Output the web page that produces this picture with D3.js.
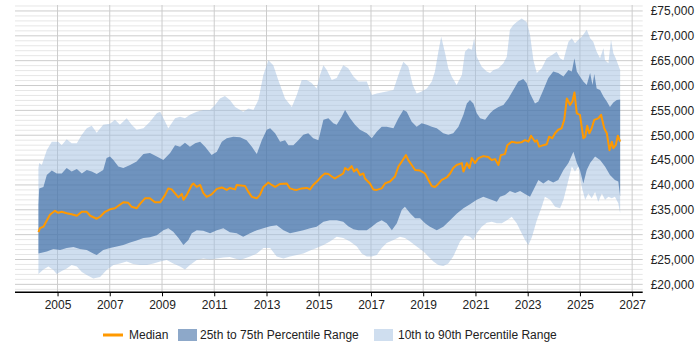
<html>
<head>
<meta charset="utf-8">
<script src="https://d3js.org/d3.v7.min.js"></script>
<style>
  body { margin: 0; background: #fff; }
  svg text { font-family: "Liberation Sans", Arial, sans-serif; font-size: 12px; fill: #222; }
</style>
</head>
<body>
<div id="chart"></div>
<script>
// values (decimal years, GBP)
const medianYears = [2004.27,2004.33,2004.46,2004.71,2004.90,2005.03,2005.16,2005.35,2005.54,2005.74,2005.93,2006.12,2006.25,2006.50,2006.63,2006.82,2007.01,2007.20,2007.33,2007.52,2007.71,2007.84,2008.03,2008.16,2008.35,2008.54,2008.73,2008.93,2009.12,2009.24,2009.37,2009.50,2009.63,2009.76,2009.82,2009.95,2010.14,2010.20,2010.33,2010.46,2010.58,2010.71,2010.90,2011.10,2011.29,2011.48,2011.60,2011.80,2011.86,2012.18,2012.31,2012.44,2012.63,2012.75,2012.88,2013.07,2013.20,2013.33,2013.52,2013.78,2013.90,2014.03,2014.16,2014.35,2014.54,2014.67,2014.79,2014.99,2015.12,2015.24,2015.37,2015.50,2015.62,2015.75,2015.94,2016.01,2016.13,2016.26,2016.35,2016.46,2016.58,2016.71,2016.77,2016.96,2017.09,2017.22,2017.41,2017.54,2017.73,2017.92,2018.05,2018.18,2018.34,2018.43,2018.56,2018.69,2018.88,2019.07,2019.20,2019.33,2019.45,2019.58,2019.71,2019.90,2020.03,2020.15,2020.28,2020.48,2020.54,2020.67,2020.77,2020.86,2020.98,2021.11,2021.30,2021.49,2021.62,2021.75,2021.88,2021.97,2022.13,2022.22,2022.39,2022.58,2022.77,2022.90,2023.03,2023.13,2023.28,2023.35,2023.44,2023.60,2023.73,2023.82,2023.94,2024.05,2024.17,2024.30,2024.40,2024.50,2024.62,2024.71,2024.79,2024.88,2025.00,2025.13,2025.20,2025.28,2025.36,2025.45,2025.55,2025.70,2025.81,2025.93,2026.03,2026.13,2026.22,2026.28,2026.37,2026.45,2026.54];
const medianValues = [30500,31300,31600,34000,34800,34400,34600,34300,34100,33800,34600,34600,33800,33200,33600,34600,35100,35300,35800,36500,36400,35600,35300,36200,37300,37300,36500,36500,38000,39300,39100,38300,37500,38200,37000,38000,40000,40300,39600,40000,38400,37600,38100,39200,39500,39000,39400,39100,40000,39800,38600,37600,37300,38000,39600,40500,40000,39600,40200,40300,39300,39100,39000,39300,39400,39100,40000,41000,41800,42300,42200,41700,41300,41700,42300,43400,43000,43800,42700,43200,42000,42300,41300,40300,39100,39000,39300,40300,40700,41700,43700,44700,46000,45000,44000,43000,42900,42300,41000,39800,39600,40200,41000,41500,42300,43400,44000,44400,42700,44400,43400,45400,44400,45400,45800,45600,45000,45200,44000,46000,46200,48000,48700,48500,48600,49000,48700,49900,48700,49000,47700,48000,48200,49700,49400,50400,51100,51400,53100,57400,56100,56800,58600,54400,54100,49400,49700,51900,50400,51400,53100,53400,54100,51400,50400,47000,48700,47400,48000,49900,48700];

const p75Years = [2004.27,2004.30,2004.46,2004.59,2004.78,2004.97,2005.16,2005.35,2005.54,2005.74,2005.93,2006.12,2006.31,2006.50,2006.75,2006.88,2007.01,2007.14,2007.33,2007.52,2007.78,2008.03,2008.29,2008.54,2008.80,2009.05,2009.31,2009.50,2009.69,2009.88,2010.07,2010.27,2010.46,2010.65,2010.90,2011.10,2011.29,2011.48,2011.73,2011.99,2012.24,2012.44,2012.63,2012.82,2013.01,2013.14,2013.33,2013.52,2013.71,2013.84,2014.03,2014.22,2014.41,2014.60,2014.79,2014.99,2015.18,2015.37,2015.56,2015.69,2015.88,2016.01,2016.20,2016.39,2016.58,2016.84,2017.03,2017.22,2017.41,2017.60,2017.86,2018.05,2018.24,2018.37,2018.56,2018.75,2018.94,2019.14,2019.33,2019.52,2019.77,2019.96,2020.15,2020.35,2020.54,2020.67,2020.79,2020.92,2021.05,2021.18,2021.37,2021.56,2021.69,2021.88,2022.07,2022.26,2022.45,2022.64,2022.83,2022.96,2023.09,2023.28,2023.41,2023.60,2023.79,2023.98,2024.17,2024.37,2024.56,2024.69,2024.79,2024.88,2025.00,2025.13,2025.26,2025.39,2025.48,2025.55,2025.64,2025.77,2025.90,2026.03,2026.15,2026.28,2026.41,2026.54];
const p75Values = [36000,39300,39600,42000,42900,42300,42300,43400,42700,43200,42300,43000,42700,42200,43000,45400,45700,45000,43700,43400,44000,44700,46200,46400,45700,45000,46400,48000,47700,48500,47700,48400,48700,47700,46000,46700,48700,49400,49700,49600,49000,47700,46200,49000,51100,51400,50400,48700,49000,48000,48000,49000,50100,50400,49400,49000,53100,53400,52400,52100,53700,55100,53400,52100,51100,50400,49400,50700,51700,51700,51400,53400,55100,54700,52700,51700,52400,52100,51700,51400,50400,50100,50400,51700,54100,56400,57100,56400,54400,53400,53100,54400,55100,55700,56100,57400,59100,60800,61300,60500,58400,56400,56800,59100,61500,62800,62500,61800,63100,62800,65500,62800,61800,60800,60100,62500,60100,62300,59400,59100,57800,56800,55700,56600,57100,57200];

const p90Years = [2004.27,2004.30,2004.40,2004.59,2004.78,2005.03,2005.16,2005.35,2005.54,2005.74,2005.93,2006.12,2006.31,2006.50,2006.75,2007.01,2007.20,2007.39,2007.65,2007.84,2008.03,2008.29,2008.54,2008.80,2008.93,2009.12,2009.24,2009.50,2009.69,2009.88,2010.07,2010.33,2010.58,2010.84,2011.03,2011.22,2011.41,2011.60,2011.80,2012.11,2012.31,2012.50,2012.69,2012.88,2013.07,2013.26,2013.45,2013.71,2013.97,2014.16,2014.35,2014.54,2014.73,2014.92,2015.05,2015.18,2015.31,2015.50,2015.69,2015.94,2016.13,2016.33,2016.52,2016.84,2017.03,2017.22,2017.41,2017.60,2017.86,2018.05,2018.24,2018.43,2018.60,2018.75,2018.94,2019.14,2019.33,2019.45,2019.58,2019.69,2019.84,2019.96,2020.09,2020.28,2020.48,2020.60,2020.73,2020.86,2020.95,2021.05,2021.24,2021.43,2021.56,2021.69,2021.88,2022.07,2022.20,2022.32,2022.45,2022.58,2022.77,2022.96,2023.09,2023.22,2023.35,2023.54,2023.73,2023.92,2024.11,2024.24,2024.37,2024.56,2024.69,2024.81,2024.94,2025.07,2025.26,2025.39,2025.51,2025.64,2025.77,2025.90,2025.96,2026.09,2026.19,2026.28,2026.37,2026.47,2026.54];
const p90Values = [43400,44400,44000,47000,48700,48700,48000,49200,48400,48400,50100,51400,51900,50500,52100,52300,53100,52100,53400,52100,51100,51400,52700,54400,54700,52700,51400,53400,53700,53400,54100,54700,55100,55100,56100,57400,57900,57100,55700,54700,55400,55100,57100,62100,65100,64100,61100,57400,55700,58100,61100,61100,60500,59400,62100,64100,63100,61100,61500,64100,63500,61800,60800,60800,58100,58400,58600,58800,59100,62100,64800,63800,60100,58400,58800,59400,60800,62800,66800,69800,66500,63500,61800,60100,62100,66800,67500,67200,69500,65800,63800,62800,62500,63100,63500,64500,65800,71200,72200,72800,73500,72800,70200,65100,62500,63500,65500,66100,66800,65500,65100,68800,69500,68500,69200,69800,71200,69500,68800,66800,65500,67500,65100,64500,69200,66500,65500,64100,63100];

const p25Years = [2004.27,2004.59,2004.84,2005.10,2005.35,2005.61,2005.86,2006.12,2006.37,2006.50,2006.75,2007.01,2007.27,2007.52,2007.78,2008.03,2008.29,2008.54,2008.80,2009.05,2009.24,2009.43,2009.63,2009.82,2010.01,2010.14,2010.33,2010.58,2010.84,2011.10,2011.35,2011.60,2011.86,2012.11,2012.37,2012.63,2012.88,2013.14,2013.39,2013.65,2013.90,2014.16,2014.41,2014.67,2014.92,2015.18,2015.43,2015.69,2015.94,2016.13,2016.33,2016.52,2016.84,2017.03,2017.22,2017.41,2017.60,2017.80,2017.99,2018.18,2018.30,2018.50,2018.69,2018.88,2019.07,2019.26,2019.52,2019.77,2020.03,2020.28,2020.54,2020.79,2021.05,2021.30,2021.56,2021.82,2021.94,2022.13,2022.32,2022.52,2022.71,2022.90,2023.09,2023.22,2023.41,2023.60,2023.79,2023.98,2024.17,2024.37,2024.56,2024.75,2024.88,2025.00,2025.13,2025.26,2025.39,2025.58,2025.77,2025.96,2026.15,2026.34,2026.47,2026.54];
const p25Values = [26200,26600,27100,26900,27300,27500,27100,26900,26200,25900,26900,27300,27600,27900,28400,28800,29300,29500,29900,30900,31300,30600,29300,27900,28900,30300,30900,30800,30300,30900,31300,30500,30300,29600,30300,30900,31300,31700,31900,30900,30300,30600,30900,31300,31600,32600,32900,32900,32600,31700,31100,30900,30900,31600,32400,32900,32300,30900,32300,35000,35600,34300,33300,33300,32300,31600,30900,31600,32900,34200,35300,36100,37000,37600,37100,36600,37600,38000,38800,38400,38800,38200,37600,39000,41000,40300,41000,40500,41000,43000,44400,46700,44400,43000,40300,43000,44400,45700,45000,43700,42000,41000,40700,37600];

const p10Years = [2004.27,2004.46,2004.65,2004.84,2004.97,2005.16,2005.35,2005.54,2005.74,2005.93,2006.12,2006.37,2006.63,2006.88,2007.14,2007.39,2007.65,2007.90,2008.16,2008.42,2008.67,2008.93,2009.18,2009.43,2009.69,2009.88,2010.07,2010.33,2010.58,2010.84,2011.10,2011.35,2011.60,2011.99,2012.37,2012.63,2012.88,2013.14,2013.39,2013.65,2013.90,2014.16,2014.41,2014.67,2014.92,2015.18,2015.43,2015.69,2015.94,2016.20,2016.46,2016.65,2016.84,2017.03,2017.22,2017.41,2017.60,2017.86,2018.11,2018.30,2018.50,2018.75,2019.01,2019.20,2019.39,2019.58,2019.77,2019.96,2020.15,2020.41,2020.60,2020.79,2020.92,2021.05,2021.24,2021.43,2021.62,2021.82,2022.01,2022.20,2022.39,2022.58,2022.77,2022.90,2023.03,2023.16,2023.35,2023.54,2023.66,2023.86,2024.05,2024.24,2024.37,2024.56,2024.69,2024.81,2024.94,2025.07,2025.20,2025.32,2025.45,2025.58,2025.70,2025.84,2025.96,2026.09,2026.22,2026.34,2026.47,2026.54];
const p10Values = [22100,23000,23600,22900,22100,22700,23200,23900,23600,22500,21900,21200,21500,22900,23900,24200,24600,24100,23900,23900,24200,24600,24900,24200,23600,23000,23900,24900,25200,25000,25200,25400,25500,24900,25600,26200,27300,27300,25600,25200,25600,25900,26200,26800,27300,27900,28600,29600,29300,28600,27600,26200,25600,25600,25900,27300,28300,28900,29600,29300,28600,27600,26600,25600,24600,23900,23700,24200,25600,28600,29900,29600,28900,30300,31600,32400,32600,32300,32300,32900,33600,32300,30300,28900,27900,29500,32900,35600,37600,37000,35600,35300,37000,41000,43700,42700,43700,39600,37000,38300,37300,38600,36600,38300,37000,37600,37300,37600,36300,34300];

const tickYears = [2005,2007,2009,2011,2013,2015,2017,2019,2021,2023,2025,2027];
const yTicks = [20000,25000,30000,35000,40000,45000,50000,55000,60000,65000,70000,75000];
const legendLabels = ["Median", "25th to 75th Percentile Range", "10th to 90th Percentile Range"];

const width = 700, height = 350;
const plotLeft = 15, plotRight = 642.7, plotTop = 5, plotBottom = 292.3;

function yearToDate(yv) {
  const yr = Math.floor(yv);
  const a = new Date(yr, 0, 1), b = new Date(yr + 1, 0, 1);
  return new Date(+a + (yv - yr) * (b - a));
}

const x = d3.scaleTime()
  .domain([yearToDate(2003.373), yearToDate(2027.404)])
  .range([plotLeft, plotRight]);
const y = d3.scaleLinear().domain([18400, 76200]).range([plotBottom, plotTop]);

const svg = d3.select('#chart').append('svg')
  .attr('width', width).attr('height', height);

// grid
const grid = svg.append('g');
grid.selectAll('.minor').data(d3.range(19000, 76001, 1000).filter(v => v % 5000 !== 0))
  .enter().append('line')
  .attr('x1', plotLeft).attr('x2', plotRight)
  .attr('y1', d => y(d)).attr('y2', d => y(d))
  .attr('stroke', '#e6e6e6').attr('stroke-width', 1);
grid.selectAll('.major').data(yTicks)
  .enter().append('line')
  .attr('x1', plotLeft).attr('x2', plotRight)
  .attr('y1', d => y(d)).attr('y2', d => y(d))
  .attr('stroke', '#cccccc').attr('stroke-width', 1);
grid.selectAll('.vert').data(tickYears)
  .enter().append('line')
  .attr('x1', d => x(new Date(d, 0, 1))).attr('x2', d => x(new Date(d, 0, 1)))
  .attr('y1', plotTop).attr('y2', plotBottom)
  .attr('stroke', '#cccccc').attr('stroke-width', 1);

const line = d3.line().x(d => x(yearToDate(d[0]))).y(d => y(d[1]));

function band(upYears, upValues, lowYears, lowValues) {
  const up = upYears.map((t, i) => [t, upValues[i]]);
  const low = lowYears.map((t, i) => [t, lowValues[i]]).reverse();
  return line(up.concat(low)) + 'Z';
}

svg.append('path')
  .attr('d', band(p90Years, p90Values, p10Years, p10Values))
  .attr('fill', 'rgb(160,190,224)').attr('fill-opacity', 0.5);

svg.append('path')
  .attr('d', band(p75Years, p75Values, p25Years, p25Values))
  .attr('fill', '#2f619c').attr('fill-opacity', 0.6);

svg.append('path')
  .datum(medianYears.map((t, i) => [t, medianValues[i]]))
  .attr('d', line)
  .attr('fill', 'none')
  .attr('stroke', '#ff9900')
  .attr('stroke-width', 2)
  .attr('stroke-linejoin', 'round');

// x axis
const xAxis = d3.axisBottom(x)
  .tickValues(tickYears.map(d => new Date(d, 0, 1)))
  .tickFormat(d3.timeFormat('%Y'))
  .tickSize(4).tickPadding(4);
const gx = svg.append('g')
  .attr('transform', 'translate(0,' + plotBottom + ')')
  .call(xAxis);
gx.select('.domain').attr('d', 'M' + plotLeft + ',0H' + plotRight).attr('stroke', '#000').attr('stroke-width', 1.5);
gx.selectAll('.tick line').attr('stroke', '#000');
gx.selectAll('text').attr('font-size', 12).attr('font-family', null).attr('fill', '#222');

// y labels on the right
const yAxis = d3.axisRight(y)
  .tickValues(yTicks)
  .tickFormat(d => '£' + d3.format(',')(d))
  .tickSize(0).tickPadding(8);
const gy = svg.append('g')
  .attr('transform', 'translate(' + plotRight + ',0)')
  .call(yAxis);
gy.select('.domain').remove();
gy.selectAll('text').attr('font-size', 12).attr('font-family', null).attr('fill', '#222');

// legend
const lg = svg.append('g');
lg.append('line').attr('x1', 103).attr('x2', 123).attr('y1', 335).attr('y2', 335)
  .attr('stroke', '#ff9900').attr('stroke-width', 3);
lg.append('text').attr('x', 129).attr('y', 339).text(legendLabels[0]);
lg.append('rect').attr('x', 178).attr('y', 329).attr('width', 19).attr('height', 12)
  .attr('fill', '#2f619c').attr('fill-opacity', 0.55);
lg.append('text').attr('x', 200).attr('y', 339).text(legendLabels[1]);
lg.append('rect').attr('x', 374).attr('y', 329).attr('width', 19).attr('height', 12)
  .attr('fill', 'rgb(160,190,224)').attr('fill-opacity', 0.5);
lg.append('text').attr('x', 398).attr('y', 339).text(legendLabels[2]);
</script>
</body>
</html>
